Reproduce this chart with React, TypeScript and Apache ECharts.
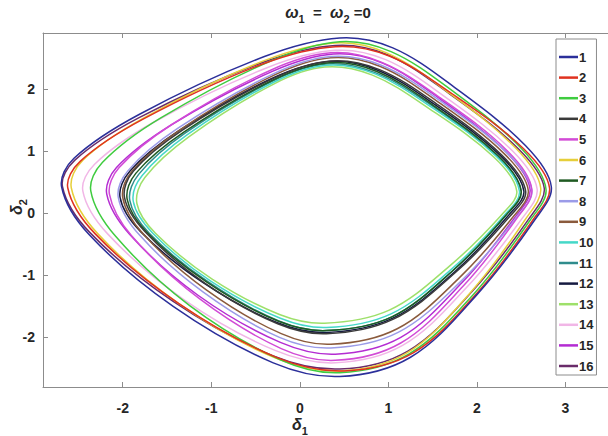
import React, { useEffect, useRef } from "react";
import * as echarts from "echarts";

const seriesNames = ["1","2","3","4","5","6","7","8","9","10","11","12","13","14","15","16"];
const seriesColors = ["#2b2f9a","#e0321f","#3fcc3f","#3a3a3a","#d24bd6","#e6cf3a","#1f5a22","#9b9be8","#8a5a3c","#45d8c8","#2f8c8c","#161a40","#9ee06a","#f1b6e6","#b42cd2","#6a2c6a"];

// closed loops (the last point joins back to the first)
const curve1 = [[-1.81,1.59],[-0.40,2.52],[0.45,2.82],[1.05,2.66],[1.75,2.02],[2.55,1.08],[2.84,0.42],[2.65,-0.12],[2.00,-1.32],[1.25,-2.33],[0.45,-2.64],[-0.30,-2.42],[-1.43,-1.51],[-2.38,-0.35],[-2.69,0.42],[-2.55,0.88]];
const curve2 = [[-1.77,1.51],[-0.42,2.40],[0.40,2.68],[1.01,2.53],[1.72,1.92],[2.53,1.03],[2.82,0.40],[2.63,-0.12],[2.01,-1.28],[1.28,-2.26],[0.50,-2.55],[-0.25,-2.34],[-1.37,-1.46],[-2.31,-0.34],[-2.62,0.40],[-2.48,0.83]];
const curve3 = [[-1.57,1.53],[-0.31,2.46],[0.45,2.76],[1.03,2.60],[1.72,1.97],[2.50,1.04],[2.78,0.38],[2.59,-0.14],[1.97,-1.30],[1.23,-2.28],[0.45,-2.58],[-0.22,-2.37],[-1.24,-1.50],[-2.08,-0.38],[-2.36,0.35],[-2.23,0.81]];
const curve4 = [[-1.33,1.33],[-0.28,2.18],[0.35,2.45],[0.90,2.31],[1.55,1.75],[2.28,0.93],[2.55,0.35],[2.37,-0.06],[1.76,-0.96],[1.05,-1.72],[0.30,-1.95],[-0.25,-1.79],[-1.07,-1.14],[-1.75,-0.30],[-1.98,0.25],[-1.88,0.67]];
const curve5 = [[-1.45,1.42],[-0.33,2.30],[0.35,2.58],[0.92,2.43],[1.59,1.85],[2.35,0.99],[2.62,0.38],[2.44,-0.11],[1.84,-1.19],[1.14,-2.10],[0.40,-2.38],[-0.21,-2.19],[-1.13,-1.39],[-1.90,-0.37],[-2.15,0.30],[-2.04,0.73]];
const curve6 = [[-1.75,1.54],[-0.41,2.45],[0.40,2.74],[0.98,2.58],[1.66,1.96],[2.44,1.04],[2.72,0.40],[2.54,-0.12],[1.93,-1.28],[1.21,-2.26],[0.45,-2.55],[-0.28,-2.34],[-1.37,-1.46],[-2.28,-0.34],[-2.58,0.40],[-2.45,0.85]];
const curve7 = [[-1.31,1.30],[-0.29,2.15],[0.33,2.42],[0.87,2.28],[1.51,1.73],[2.24,0.92],[2.50,0.35],[2.32,-0.05],[1.73,-0.93],[1.04,-1.68],[0.30,-1.90],[-0.24,-1.75],[-1.05,-1.12],[-1.73,-0.31],[-1.95,0.22],[-1.85,0.64]];
const curve8 = [[-1.38,1.36],[-0.30,2.24],[0.35,2.52],[0.92,2.38],[1.59,1.80],[2.35,0.95],[2.62,0.36],[2.44,-0.09],[1.83,-1.09],[1.11,-1.93],[0.35,-2.18],[-0.23,-2.01],[-1.09,-1.28],[-1.81,-0.36],[-2.05,0.25],[-1.94,0.68]];
const curve9 = [[-1.34,1.35],[-0.29,2.22],[0.35,2.50],[0.91,2.36],[1.56,1.79],[2.31,0.95],[2.58,0.36],[2.40,-0.08],[1.80,-1.05],[1.10,-1.87],[0.35,-2.12],[-0.21,-1.95],[-1.06,-1.24],[-1.77,-0.34],[-2.00,0.25],[-1.89,0.68]];
const curve10 = [[-1.27,1.26],[-0.29,2.11],[0.30,2.38],[0.85,2.24],[1.49,1.70],[2.22,0.91],[2.48,0.35],[2.31,-0.04],[1.72,-0.90],[1.03,-1.63],[0.30,-1.85],[-0.22,-1.70],[-1.01,-1.10],[-1.66,-0.33],[-1.88,0.18],[-1.78,0.60]];
const curve11 = [[-1.30,1.28],[-0.30,2.13],[0.30,2.40],[0.85,2.26],[1.50,1.72],[2.23,0.91],[2.50,0.35],[2.32,-0.05],[1.73,-0.93],[1.04,-1.68],[0.30,-1.90],[-0.23,-1.75],[-1.03,-1.12],[-1.70,-0.33],[-1.92,0.20],[-1.82,0.62]];
const curve12 = [[-1.37,1.32],[-0.31,2.17],[0.33,2.44],[0.88,2.30],[1.53,1.74],[2.26,0.93],[2.53,0.35],[2.35,-0.05],[1.75,-0.95],[1.05,-1.70],[0.30,-1.93],[-0.26,-1.77],[-1.10,-1.12],[-1.80,-0.30],[-2.03,0.25],[-1.92,0.67]];
const curve13 = [[-1.25,1.23],[-0.29,2.08],[0.28,2.35],[0.82,2.22],[1.46,1.68],[2.19,0.90],[2.45,0.35],[2.28,-0.03],[1.69,-0.86],[1.01,-1.57],[0.28,-1.78],[-0.23,-1.64],[-0.99,-1.07],[-1.63,-0.33],[-1.84,0.15],[-1.75,0.57]];
const curve14 = [[-1.65,1.46],[-0.37,2.34],[0.40,2.62],[0.97,2.47],[1.64,1.87],[2.40,1.00],[2.68,0.38],[2.50,-0.11],[1.88,-1.21],[1.16,-2.14],[0.40,-2.42],[-0.28,-2.22],[-1.31,-1.40],[-2.17,-0.34],[-2.45,0.35],[-2.32,0.78]];
const curve15 = [[-1.46,1.41],[-0.31,2.28],[0.38,2.56],[0.94,2.41],[1.59,1.83],[2.33,0.98],[2.60,0.38],[2.42,-0.09],[1.83,-1.13],[1.14,-2.01],[0.40,-2.28],[-0.22,-2.09],[-1.15,-1.33],[-1.92,-0.35],[-2.18,0.30],[-2.07,0.73]];
const curve16 = [[-1.82,1.53],[-0.43,2.42],[0.40,2.70],[0.99,2.55],[1.68,1.93],[2.47,1.03],[2.76,0.40],[2.58,-0.11],[1.95,-1.26],[1.22,-2.23],[0.45,-2.52],[-0.30,-2.31],[-1.43,-1.43],[-2.37,-0.32],[-2.68,0.42],[-2.54,0.85]];

const curves = [curve1,curve2,curve3,curve4,curve5,curve6,curve7,curve8,curve9,curve10,curve11,curve12,curve13,curve14,curve15,curve16];

const xTicks = [-2, -1, 0, 1, 2, 3];
const yTicks = [-2, -1, 0, 1, 2];

export default function App() {
  const ref = useRef<HTMLDivElement>(null);
  useEffect(() => {
    if (!ref.current) return;
    const chart = echarts.init(ref.current, undefined, { renderer: "svg" });
    const axisColor = "#8c8c8c";
    const ink = "#262626";
    const font = "Liberation Sans";
    const labelStyle = { fontSize: 14, fontWeight: "bold" as const, color: ink, fontFamily: font };
    const mainRich = { fontSize: 16, fontStyle: "italic", fontWeight: "bold", fontFamily: font, fill: ink, lineHeight: 18 };
    const plainRich = { fontSize: 15, fontWeight: "bold", fontFamily: font, fill: ink, lineHeight: 18 };
    const subRich = { fontSize: 11, fontWeight: "bold", fontFamily: font, fill: ink, verticalAlign: "bottom", lineHeight: 18, padding: [0, 0, -3, 0] };
    chart.setOption({
      animation: false,
      backgroundColor: "#ffffff",
      grid: { left: 43, right: 0, top: 33, bottom: 49, show: false },
      xAxis: [
        {
          type: "value", min: -2.9, max: 3.48, position: "bottom",
          axisLine: { show: true, onZero: false, lineStyle: { color: axisColor, width: 1 } },
          axisTick: { show: true, inside: true, length: 5, customValues: xTicks, lineStyle: { color: axisColor } },
          axisLabel: { customValues: xTicks, margin: 14, ...labelStyle },
          splitLine: { show: false },
        },
        {
          type: "value", min: -2.9, max: 3.48, position: "top",
          axisLine: { show: true, onZero: false, lineStyle: { color: axisColor, width: 1 } },
          axisTick: { show: true, inside: true, length: 5, customValues: xTicks, lineStyle: { color: axisColor } },
          axisLabel: { show: false },
          splitLine: { show: false },
        },
      ],
      yAxis: {
        type: "value", min: -2.81, max: 2.9,
        axisLine: { show: true, onZero: false, lineStyle: { color: axisColor, width: 1 } },
        axisTick: { show: true, inside: true, length: 5, customValues: yTicks, lineStyle: { color: axisColor } },
        axisLabel: { customValues: yTicks, margin: 8, ...labelStyle },
        splitLine: { show: false },
      },
      legend: {
        data: seriesNames,
        orient: "vertical",
        left: 556,
        top: 39,
        padding: [11, 3, 2, 3],
        itemGap: 6.6,
        itemWidth: 19,
        itemHeight: 2.5,
        icon: "rect",
        backgroundColor: "#ffffff",
        borderColor: "#8c8c8c",
        borderWidth: 1,
        borderRadius: 0,
        textStyle: { fontSize: 13, fontWeight: "bold", color: ink, fontFamily: font, lineHeight: 14, padding: [0, 0, 0, -4] },
      },
      graphic: [
        {
          type: "text", x: 328, y: 12,
          style: {
            text: "{w|ω}{s|1}{e|  =  }{w|ω}{s|2}{e| =0}",
            align: "center", verticalAlign: "middle",
            rich: { w: mainRich, e: plainRich, s: subRich },
          },
        },
        {
          type: "text", x: 300, y: 424,
          style: {
            text: "{w|δ}{s|1}", align: "center", verticalAlign: "middle",
            rich: { w: mainRich, s: subRich },
          },
        },
        {
          type: "text", x: 16, y: 207, rotation: Math.PI / 2,
          style: {
            text: "{w|δ}{s|2}", align: "center", verticalAlign: "middle",
            rich: { w: mainRich, s: subRich },
          },
        },
      ],
      series: curves.map((c, i) => ({
        name: seriesNames[i],
        type: "custom",
        coordinateSystem: "cartesian2d",
        data: c,
        encode: { x: 0, y: 1 },
        itemStyle: { color: seriesColors[i] },
        z: 2 + (16 - i) * 0.01,
        renderItem: (params: any, api: any) => {
          if (params.dataIndex !== 0) return null;
          const pts = c.map((p) => api.coord(p));
          return {
            type: "polygon",
            shape: { points: pts, smooth: 0.35 },
            style: { fill: "none", stroke: seriesColors[i], lineWidth: 1.5 },
            silent: true,
          };
        },
      })),
    });
    return () => chart.dispose();
  }, []);
  return <div ref={ref} style={{ width: 608, height: 436, position: "absolute", left: 0, top: 0 }} />;
}
